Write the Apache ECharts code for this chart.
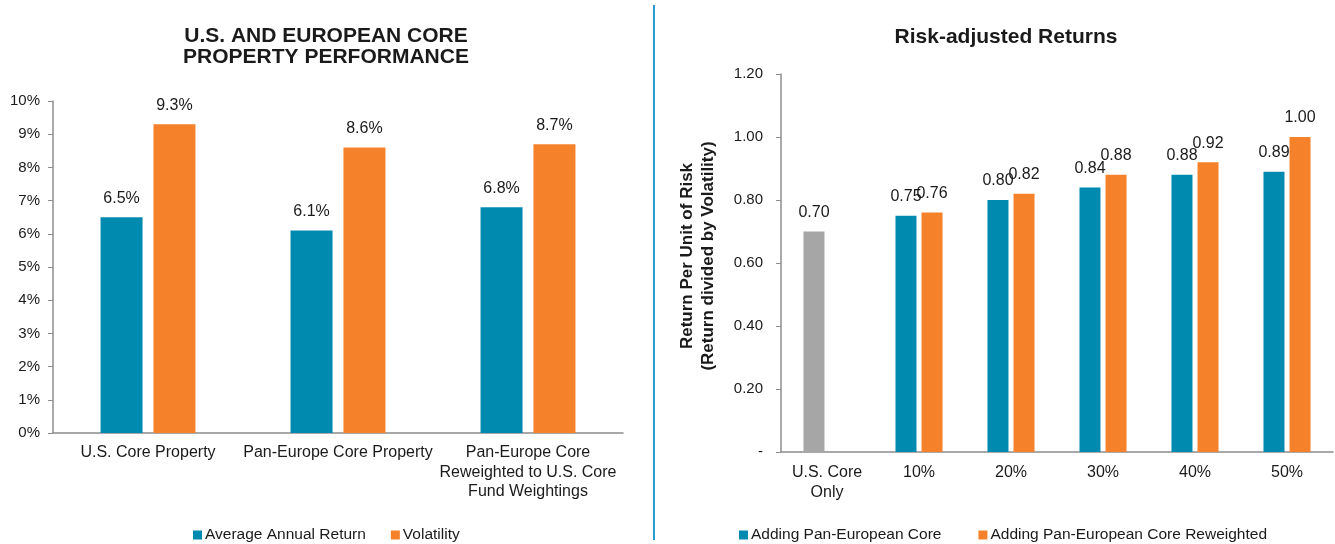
<!DOCTYPE html>
<html>
<head>
<meta charset="utf-8">
<script src="https://cdn.jsdelivr.net/npm/echarts@6/dist/echarts.min.js"></script>
<style>
  html, body { margin: 0; padding: 0; background: #ffffff; }
  #chart { width: 1335px; height: 544px; }
</style>
</head>
<body>
<div id="chart"></div>
<script>
// Left panel: performance of core property
const perfCategories = ['U.S. Core Property', 'Pan-Europe Core Property', 'Pan-Europe Core\nReweighted to U.S. Core\nFund Weightings'];
const avgAnnualReturn = [6.5, 6.1, 6.8];
const volatility = [9.3, 8.6, 8.7];

// Right panel: risk-adjusted returns
const riskCategories = ['U.S. Core\nOnly', '10%', '20%', '30%', '40%', '50%'];
const addingPanEuro = [0.70, 0.75, 0.80, 0.84, 0.88, 0.89];
const addingPanEuroReweighted = [null, 0.76, 0.82, 0.88, 0.92, 1.00];

const BLUE = '#008AB0';
const ORANGE = '#F5822A';
const GRAY = '#A6A6A6';
const TEXT = '#1a1a1a';
const AXIS = '#8c8c8c';
const FONT = '"Liberation Sans", Arial, sans-serif';

const chart = echarts.init(document.getElementById('chart'));

const labelStyle = { show: true, position: 'top', distance: 11, color: TEXT, fontSize: 16, fontFamily: FONT };

chart.setOption({
  animation: false,
  textStyle: { fontFamily: FONT },
  title: [
    {
      text: 'U.S. AND EUROPEAN CORE\nPROPERTY PERFORMANCE',
      left: 321, top: 21, textAlign: 'center',
      textStyle: { fontSize: 21, fontWeight: 'bold', color: TEXT, lineHeight: 21, fontFamily: FONT }
    },
    {
      text: 'Risk-adjusted Returns',
      left: 1001, top: 22, textAlign: 'center',
      textStyle: { fontSize: 21, fontWeight: 'bold', color: TEXT, lineHeight: 21, fontFamily: FONT }
    }
  ],
  legend: [
    {
      data: ['Average Annual Return', 'Volatility'],
      left: 188, top: 522, itemWidth: 9, itemHeight: 9, itemGap: 25,
      icon: 'rect',
      textStyle: { fontSize: 15.5, color: TEXT, fontFamily: FONT, padding: [0, 0, 0, -2] }
    },
    {
      data: ['Adding Pan-European Core', 'Adding Pan-European Core Reweighted'],
      left: 734, top: 522, itemWidth: 9, itemHeight: 9, itemGap: 37,
      icon: 'rect',
      textStyle: { fontSize: 15.5, color: TEXT, fontFamily: FONT, padding: [0, 0, 0, -2] }
    }
  ],
  grid: [
    { left: 53, right: 712, top: 101, bottom: 111 },
    { left: 781, right: 2, top: 74, bottom: 92 }
  ],
  xAxis: [
    {
      type: 'category', gridIndex: 0, data: perfCategories,
      axisLine: { lineStyle: { color: AXIS, width: 1.5 } },
      axisTick: { show: false },
      axisLabel: { color: TEXT, fontSize: 16, lineHeight: 19.5, margin: 10, interval: 0, fontFamily: FONT }
    },
    {
      type: 'category', gridIndex: 1, data: riskCategories,
      axisLine: { lineStyle: { color: AXIS, width: 1.5 } },
      axisTick: { show: false },
      axisLabel: { color: TEXT, fontSize: 16, lineHeight: 19.5, margin: 11, interval: 0, fontFamily: FONT }
    }
  ],
  yAxis: [
    {
      type: 'value', gridIndex: 0, min: 0, max: 10, interval: 1,
      axisLine: { show: true, lineStyle: { color: AXIS, width: 1.5 } },
      axisTick: { show: true, length: 5, lineStyle: { color: AXIS } },
      splitLine: { show: false },
      axisLabel: { color: TEXT, fontSize: 15, margin: 13, formatter: v => v + '%', fontFamily: FONT }
    },
    {
      type: 'value', gridIndex: 1, min: 0, max: 1.2, interval: 0.2,
      name: 'Return Per Unit of Risk\n(Return divided by Volatility)',
      nameLocation: 'middle', nameGap: 62, nameRotate: 90,
      nameTextStyle: { fontSize: 17, fontWeight: 'bold', color: TEXT, lineHeight: 21, fontFamily: FONT, padding: [0, 0, 0, 14] },
      axisLine: { show: true, lineStyle: { color: AXIS, width: 1.5 } },
      axisTick: { show: true, length: 5, lineStyle: { color: AXIS } },
      splitLine: { show: false },
      axisLabel: {
        color: TEXT, fontSize: 15, margin: 18, fontFamily: FONT,
        formatter: v => (Math.abs(v) < 1e-9 ? '-' : v.toFixed(2))
      }
    }
  ],
  series: [
    {
      name: 'Average Annual Return', type: 'bar', xAxisIndex: 0, yAxisIndex: 0,
      data: avgAnnualReturn, barWidth: 42, barGap: '26%',
      itemStyle: { color: BLUE },
      label: Object.assign({}, labelStyle, { formatter: p => p.value.toFixed(1) + '%' })
    },
    {
      name: 'Volatility', type: 'bar', xAxisIndex: 0, yAxisIndex: 0,
      data: volatility, barWidth: 42, barGap: '26%',
      itemStyle: { color: ORANGE },
      label: Object.assign({}, labelStyle, { formatter: p => p.value.toFixed(1) + '%' })
    },
    {
      name: 'Adding Pan-European Core', type: 'bar', xAxisIndex: 1, yAxisIndex: 1,
      data: addingPanEuro.map((v, i) => i === 0 ? { value: v, itemStyle: { color: GRAY } } : v),
      barWidth: 21, barGap: '24%',
      itemStyle: { color: BLUE },
      label: Object.assign({}, labelStyle, { formatter: p => p.value.toFixed(2) })
    },
    {
      name: 'Adding Pan-European Core Reweighted', type: 'bar', xAxisIndex: 1, yAxisIndex: 1,
      data: addingPanEuroReweighted, barWidth: 21, barGap: '24%',
      itemStyle: { color: ORANGE },
      label: Object.assign({}, labelStyle, { formatter: p => p.value == null ? '' : p.value.toFixed(2) })
    }
  ],
  graphic: [
    {
      type: 'line', shape: { x1: 654, y1: 5, x2: 654, y2: 540 },
      style: { stroke: '#2A9CD4', lineWidth: 2 }
    }
  ]
});
</script>
</body>
</html>
